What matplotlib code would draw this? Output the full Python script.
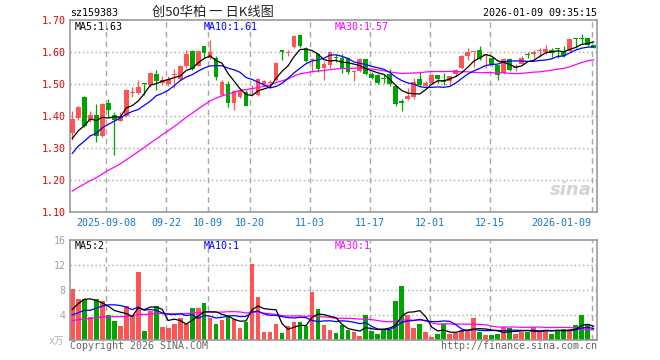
"""
Daily K-line chart for sz159383 with MA5/MA10/MA30 and a volume panel.
Writes out.png (660x360).
"""
import numpy as np
import pandas as pd
import matplotlib
matplotlib.use("Agg")
import matplotlib.pyplot as plt

HOLIDAYS = ["2025-10-01", "2025-10-02", "2025-10-03", "2025-10-06",
            "2025-10-07", "2025-10-08", "2026-01-01", "2026-01-02"]
DATES = pd.bdate_range("2025-08-29", "2026-01-09", freq="C", holidays=HOLIDAYS)

TICK_DATES = ["2025-09-08", "2025-09-22", "2025-10-09", "2025-10-20", "2025-11-03",
              "2025-11-17", "2025-12-01", "2025-12-15", "2026-01-09"]
TICK_LABELS = ["2025-09-08", "09-22", "10-09", "10-20", "11-03",
               "11-17", "12-01", "12-15", "2026-01-09"]

open_px = [1.348, 1.395, 1.460, 1.388, 1.404, 1.336, 1.441, 1.404, 1.385, 1.400,
           1.471, 1.471, 1.503, 1.498, 1.532, 1.503, 1.501, 1.527, 1.515, 1.555,
           1.604, 1.557, 1.618, 1.581, 1.581, 1.466, 1.501, 1.442, 1.458, 1.474,
           1.485, 1.466, 1.498, 1.503, 1.512, 1.607, 1.598, 1.616, 1.654, 1.612,
           1.576, 1.593, 1.549, 1.558, 1.584, 1.582, 1.580, 1.538, 1.542, 1.577,
           1.532, 1.527, 1.519, 1.530, 1.493, 1.446, 1.452, 1.458, 1.517, 1.494,
           1.502, 1.527, 1.508, 1.509, 1.530, 1.551, 1.587, 1.599, 1.605, 1.590,
           1.580, 1.559, 1.535, 1.579, 1.549, 1.563, 1.594, 1.593, 1.603, 1.600,
           1.605, 1.610, 1.603, 1.603, 1.643, 1.645, 1.645, 1.621]
high_px = [1.416, 1.432, 1.461, 1.416, 1.438, 1.442, 1.454, 1.414, 1.414, 1.484,
           1.490, 1.513, 1.503, 1.539, 1.543, 1.526, 1.524, 1.548, 1.560, 1.607,
           1.607, 1.604, 1.618, 1.636, 1.586, 1.512, 1.510, 1.482, 1.483, 1.480,
           1.496, 1.520, 1.512, 1.513, 1.569, 1.607, 1.607, 1.654, 1.657, 1.615,
           1.582, 1.598, 1.572, 1.603, 1.593, 1.593, 1.582, 1.543, 1.582, 1.578,
           1.538, 1.530, 1.530, 1.546, 1.494, 1.452, 1.488, 1.520, 1.540, 1.509,
           1.530, 1.528, 1.535, 1.526, 1.546, 1.590, 1.611, 1.601, 1.618, 1.595,
           1.584, 1.560, 1.582, 1.582, 1.563, 1.587, 1.601, 1.605, 1.614, 1.621,
           1.614, 1.614, 1.619, 1.640, 1.645, 1.655, 1.645, 1.622]
low_px = [1.325, 1.388, 1.366, 1.380, 1.320, 1.334, 1.398, 1.278, 1.384, 1.398,
          1.458, 1.469, 1.466, 1.492, 1.482, 1.498, 1.494, 1.487, 1.513, 1.550,
          1.545, 1.555, 1.581, 1.578, 1.511, 1.463, 1.427, 1.419, 1.455, 1.430,
          1.462, 1.464, 1.494, 1.492, 1.510, 1.575, 1.586, 1.614, 1.617, 1.568,
          1.536, 1.538, 1.512, 1.551, 1.570, 1.535, 1.532, 1.509, 1.538, 1.528,
          1.517, 1.499, 1.504, 1.493, 1.432, 1.417, 1.449, 1.452, 1.493, 1.491,
          1.499, 1.503, 1.497, 1.496, 1.524, 1.548, 1.574, 1.554, 1.574, 1.551,
          1.556, 1.514, 1.530, 1.540, 1.540, 1.561, 1.582, 1.582, 1.584, 1.595,
          1.584, 1.582, 1.584, 1.601, 1.614, 1.624, 1.619, 1.613]
close_px = [1.390, 1.429, 1.369, 1.404, 1.338, 1.439, 1.419, 1.386, 1.400, 1.482,
            1.475, 1.490, 1.500, 1.533, 1.508, 1.513, 1.516, 1.530, 1.557, 1.595,
            1.547, 1.602, 1.597, 1.599, 1.521, 1.505, 1.442, 1.479, 1.478, 1.432,
            1.489, 1.516, 1.508, 1.507, 1.567, 1.600, 1.601, 1.651, 1.620, 1.572,
            1.579, 1.546, 1.563, 1.600, 1.581, 1.551, 1.538, 1.541, 1.577, 1.532,
            1.520, 1.504, 1.517, 1.499, 1.436, 1.442, 1.464, 1.506, 1.497, 1.504,
            1.527, 1.517, 1.505, 1.525, 1.543, 1.587, 1.601, 1.601, 1.577, 1.594,
            1.561, 1.528, 1.579, 1.543, 1.551, 1.582, 1.592, 1.601, 1.605, 1.608,
            1.596, 1.608, 1.587, 1.640, 1.641, 1.642, 1.622, 1.614]
# volume, x10k lots
volume = [8.1, 6.6, 6.5, 3.7, 6.6, 6.3, 4.0, 3.1, 2.3, 5.5,
          3.9, 10.9, 1.5, 4.6, 5.5, 2.1, 1.9, 2.6, 3.5, 2.6,
          5.2, 5.2, 6.0, 3.5, 2.6, 3.2, 3.9, 3.4, 1.9, 2.9,
          12.1, 6.9, 1.3, 1.3, 2.6, 1.1, 2.3, 2.9, 2.9, 2.3,
          7.7, 5.0, 2.4, 1.6, 1.2, 2.4, 1.6, 1.3, 0.65, 4.0,
          1.45, 0.97, 1.6, 1.6, 6.3, 8.7, 4.0, 1.9, 2.6, 1.3,
          0.5, 0.97, 2.6, 0.97, 1.1, 1.6, 1.6, 3.5, 1.3, 0.8,
          0.8, 0.97, 2.1, 2.0, 0.97, 1.3, 1.3, 2.1, 1.45, 1.6,
          0.97, 1.6, 1.8, 1.8, 2.4, 4.0, 2.6, 0.2]

# sessions before the visible window, estimated from where the MA lines start
prior_close = [1.072, 1.065, 1.078, 1.070, 1.085, 1.080, 1.092, 1.088, 1.098, 1.105,
               1.100, 1.112, 1.118, 1.125, 1.120, 1.132, 1.140, 1.138, 1.150, 1.158,
               1.200, 1.220, 1.232, 1.260, 1.268, 1.310, 1.290, 1.300, 1.360]
prior_volume = [2.2, 3.1, 1.8, 2.5, 3.4, 2.0, 2.9, 2.4, 3.6, 1.9,
                2.7, 3.2, 2.1, 2.8, 2.3, 3.5, 2.6, 3.0, 2.2, 2.8,
                3.0, 2.8, 3.6, 3.2, 3.0, 2.0, 3.0, 3.4, 8.0]

RED = "#ff5454"
GREEN = "#00a400"
MA_COLORS = {5: "black", 10: "#0000ff", 30: "#ff00ff"}
GRID = "#a8a8a8"
FRAME = "#999999"
W, H = 660, 360


def fx(x):
    return x / W


def fy(y):
    return 1 - y / H


def moving_averages(prior, values):
    s = pd.Series(prior + values)
    return {n: s.rolling(n).mean().to_numpy()[len(prior):] for n in (5, 10, 30)}


def style_axes(ax, grid_x):
    for sp in ax.spines.values():
        sp.set_color(FRAME)
        sp.set_linewidth(1.2)
    ax.tick_params(length=0)
    for gx in grid_x:
        ax.axvline(gx, color=GRID, lw=1.0, ls=(0, (4, 3)), zorder=0)


def main():
    plt.rcParams["font.family"] = ["DejaVu Sans Mono", "Noto Sans CJK SC"]
    o = np.array(open_px)
    h = np.array(high_px)
    lo = np.array(low_px)
    c = np.array(close_px)
    v = np.array(volume)
    x = np.arange(len(DATES))
    colors = np.where(c >= o, RED, GREEN)

    date_str = [d.strftime("%Y-%m-%d") for d in DATES]
    tick_idx = np.array([date_str.index(d) for d in TICK_DATES])
    grid_x = tick_idx - 0.33

    ma_px = moving_averages(prior_close, close_px)
    ma_vol = moving_averages(prior_volume, volume)

    fig = plt.figure(figsize=(W / 100, H / 100), dpi=100)
    fig.patch.set_facecolor("white")
    xlim = (-0.38, len(x) - 0.43)

    # price panel
    ax = fig.add_axes([fx(70), fy(212), fx(597) - fx(70), fy(20) - fy(212)])
    style_axes(ax, grid_x)
    for p in [1.20, 1.30, 1.40, 1.50, 1.60]:
        ax.axhline(p, color=GRID, lw=1.0, ls=(0, (1, 2)), zorder=0)
    ax.vlines(x, lo, h, colors=colors, lw=0.9, zorder=2)
    body = np.maximum(np.abs(c - o), 0.003)
    ax.bar(x, body, bottom=np.minimum(o, c), width=0.8, color=colors,
           linewidth=0, zorder=3)
    for n in (30, 10, 5):
        ax.plot(x, ma_px[n], color=MA_COLORS[n], lw=0.9, zorder=4)
    ax.set_xlim(*xlim)
    ax.set_ylim(1.10, 1.70)
    ax.set_yticks(np.arange(1.10, 1.71, 0.10))
    ax.set_yticklabels([f"{t:.2f}" for t in np.arange(1.10, 1.71, 0.10)])
    ax.tick_params(axis="y", labelsize=7.2, labelcolor="#e00000", pad=3)
    ax.set_xticks(grid_x)
    ax.set_xticklabels(TICK_LABELS)
    ax.tick_params(axis="x", labelsize=7.2, labelcolor="#1679c9", pad=4)
    ax.get_xticklabels()[-1].set_ha("right")
    ax.text(0.95, 0.115, "sina", transform=ax.transAxes, ha="center", va="center",
            fontsize=13, fontstyle="italic", fontweight="bold", color="#d4d4d4",
            family="DejaVu Sans", zorder=1)

    # volume panel
    axv = fig.add_axes([fx(70), fy(340), fx(597) - fx(70), fy(240) - fy(340)])
    style_axes(axv, grid_x)
    for t in [4, 8, 12]:
        axv.axhline(t, color=GRID, lw=1.0, ls=(0, (1, 2)), zorder=0)
    axv.bar(x, v, width=0.8, color=colors, linewidth=0, zorder=2)
    for n in (30, 10, 5):
        axv.plot(x, ma_vol[n], color=MA_COLORS[n], lw=0.9, zorder=4)
    axv.set_xlim(*xlim)
    axv.set_ylim(0, 16)
    axv.set_yticks([4, 8, 12, 16])
    axv.set_yticklabels(["4", "8", "12", "16"])
    axv.tick_params(axis="y", labelsize=7.2, labelcolor="#a0a0a0", pad=3)
    axv.set_xticks([])

    # header and legend texts
    fig.text(fx(70), fy(13), "sz159383", fontsize=7.2, va="center")
    fig.text(fx(213), fy(12), "创50华柏 一 日K线图", fontsize=9.5, va="center",
             ha="center", family=["Noto Sans CJK SC", "DejaVu Sans"], color="#222222")
    fig.text(fx(597), fy(13), "2026-01-09 09:35:15", fontsize=7.2, va="center", ha="right")
    for xx, txt, n in [(75, "MA5:1.63", 5), (204, "MA10:1.61", 10), (335, "MA30:1.57", 30)]:
        fig.text(fx(xx), fy(27), txt, fontsize=7.2, va="center", color=MA_COLORS[n])
    for xx, txt, n in [(75, "MA5:2", 5), (204, "MA10:1", 10), (335, "MA30:1", 30)]:
        fig.text(fx(xx), fy(246), txt, fontsize=7.2, va="center", color=MA_COLORS[n])
    fig.text(fx(64), fy(341), "x万", fontsize=7, va="center", ha="right", color="#b0b0b0")
    fig.text(fx(70), fy(346), "Copyright 2026 SINA.COM", fontsize=7.2, va="center",
             color="#666666")
    fig.text(fx(597), fy(346), "http://finance.sina.com.cn", fontsize=7.2, va="center",
             ha="right", color="#666666")

    fig.savefig("out.png", dpi=100)
    plt.close(fig)


if __name__ == "__main__":
    main()
